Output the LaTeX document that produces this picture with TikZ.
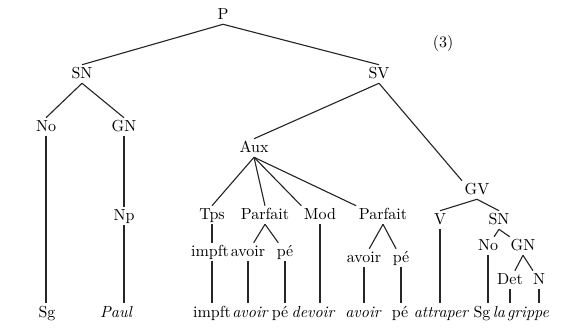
\documentclass[tikz,border=0pt]{standalone}
\usepackage{tikz}
\usetikzlibrary{positioning}
\begin{document}
\begin{tikzpicture}[x=0.625pt, y=-0.625pt,
    cat/.style={inner sep=1.5pt, text height=1.6ex, text depth=0.3ex},
    word/.style={anchor=base, inner sep=1.5pt, text height=1.6ex, font=\itshape},
    branch/.style={draw=black!85, line width=0.7pt}]
\useasboundingbox (0,0) rectangle (567,329);

\node[cat] (p) at (223,15) {P};
\node[cat] (sn) at (82,74) {SN};
\node[cat] (sv) at (379,74) {SV};
\node[cat] (num) at (443,43) {(3)};
\node[cat] (no) at (46,127) {No};
\node[cat] (gn) at (124,127) {GN};
\node[cat] (np) at (124,216) {Np};
\node[cat] (aux) at (254,148) {Aux};
\node[cat] (gv) at (477,190) {GV};
\node[cat] (tps) at (212,215) {Tps};
\node[cat] (parf) at (265,215) {Parfait};
\node[cat] (mod) at (320,215) {Mod};
\node[cat] (parfb) at (383,215) {Parfait};
\node[cat] (impft) at (210,252) {impft};
\node[cat] (avoir) at (248,252) {avoir};
\node[cat] (pe) at (285,252) {pé};
\node[cat] (avoirb) at (364,258) {avoir};
\node[cat] (peb) at (401,258) {pé};
\node[cat] (v) at (440,220) {V};
\node[cat] (snb) at (499,220) {SN};
\node[cat] (nob) at (488,246) {No};
\node[cat] (gnb) at (523,246) {GN};
\node[cat] (det) at (510,280) {Det};
\node[cat] (n) at (539,280) {N};

\node[word, font=\upshape] (wsg) at (47,317) {Sg};
\node[word] (wpaul) at (116,317) {Paul};
\node[word, font=\upshape] (wimpft) at (212,317) {impft};
\node[word] (wavoir) at (250,317) {avoir};
\node[word, font=\upshape] (wpe) at (280,317) {pé};
\node[word] (wdevoir) at (313,317) {devoir};
\node[word] (wavoirb) at (363,317) {avoir};
\node[word, font=\upshape] (wpeb) at (400,317) {pé};
\node[word] (wattr) at (441,317) {attraper};
\node[word, font=\upshape] (wsgb) at (482,317) {Sg};
\node[word] (wla) at (499,317) {la};
\node[word] (wgrip) at (528,317) {grippe};

\draw[branch] (p.south) -- (sn.north);
\draw[branch] (p.south) -- (sv.north);
\draw[branch] (sn.south) -- (no.north);
\draw[branch] (sn.south) -- (gn.north);
\draw[branch] (no.south) -- (no.south |- wsg.north);
\draw[branch] (gn.south) -- (gn.south |- np.north);
\draw[branch] (np.south) -- (np.south |- wpaul.north);
\draw[branch] (sv.south) -- (aux.north);
\draw[branch] (sv.south) -- (gv.north west);
\draw[branch] (aux.south) -- (tps.north);
\draw[branch] (aux.south) -- (parf.north);
\draw[branch] (aux.south) -- (mod.north west);
\draw[branch] (aux.south) -- (parfb.north west);
\draw[branch] (tps.south) -- (tps.south |- impft.north);
\draw[branch] (tps.south |- impft.south) -- (tps.south |- wimpft.north);
\draw[branch] (parf.south) -- (avoir);
\draw[branch] (parf.south) -- (pe);
\draw[branch] (avoir.south) -- (avoir.south |- wavoir.north);
\draw[branch] (pe.south) -- (pe.south |- wpe.north);
\draw[branch] (mod.south) -- (mod.south |- wdevoir.north);
\draw[branch] (parfb.south) -- (avoirb);
\draw[branch] (parfb.south) -- (peb);
\draw[branch] (avoirb.south) -- (avoirb.south |- wavoirb.north);
\draw[branch] (peb.south) -- (peb.south |- wpeb.north);
\draw[branch] (gv.south) -- (v.north);
\draw[branch] (gv.south) -- (snb.north);
\draw[branch] (v.south) -- (v.south |- wattr.north);
\draw[branch] (snb.south) -- (nob);
\draw[branch] (snb.south) -- (gnb);
\draw[branch] (nob.south) -- (nob.south |- wsgb.north);
\draw[branch] (gnb.south) -- (det);
\draw[branch] (gnb.south) -- (n);
\draw[branch] (det.south) -- (det.south |- wla.north);
\draw[branch] (n.south) -- (n.south |- wgrip.north);
\end{tikzpicture}
\end{document}
